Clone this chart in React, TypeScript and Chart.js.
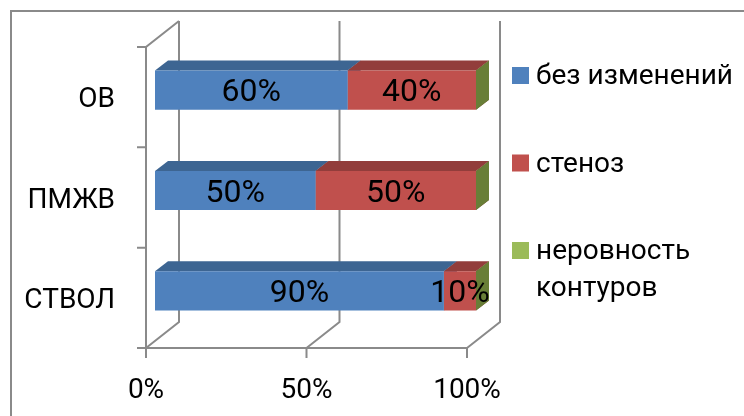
import React, { useEffect, useRef } from "react";
import { Chart, registerables } from "chart.js";

Chart.register(...registerables);

// Categories (top to bottom) and series shares, in percent
const CATEGORIES = ["ОВ", "ПМЖВ", "СТВОЛ"];
const SERIES_NAMES = ["без изменений", "стеноз", "неровность контуров"];
const UNCHANGED = [60, 50, 90];
const STENOSIS = [40, 50, 10];
const IRREGULAR = [0, 0, 0];
const X_TICKS = [0, 50, 100];

// Face colours: front, top, side
const FRONT_COLORS = ["#4F81BD", "#C0504D", "#9BBB59"];
const TOP_COLORS = ["#3D6592", "#923D3B", "#6B8039"];
const SIDE_COLORS = ["#3A5F88", "#8A3936", "#687E37"];

const FONT_FAMILY = "Roboto, 'Liberation Sans', sans-serif";
const LINE_COLOR = "#8A8A8A";

// Perspective offsets relative to the plane of the bars' front faces
const FRONT = { dx: -9, dy: 7 };
const BACK = { dx: 24, dy: -19 };
const BAR_DEPTH = { dx: 13, dy: -10 };

const frame3d = {
  id: "frame3d",
  beforeDatasetsDraw(chart: any) {
    const { ctx } = chart;
    const xs = chart.scales.x;
    const ys = chart.scales.y;
    const top = ys.top;
    const bottom = ys.bottom;
    const x0 = xs.getPixelForValue(X_TICKS[0]);
    const xEnd = xs.getPixelForValue(X_TICKS[X_TICKS.length - 1]);

    ctx.save();
    ctx.lineCap = "butt";

    // outer chart border (top and left edges)
    ctx.strokeStyle = "#8A8A8A";
    ctx.lineWidth = 2;
    ctx.beginPath();
    ctx.moveTo(11, chart.height);
    ctx.lineTo(11, 11);
    ctx.lineTo(chart.width, 11);
    ctx.stroke();

    ctx.strokeStyle = LINE_COLOR;
    ctx.lineWidth = 2;
    ctx.beginPath();
    // back wall gridlines and floor diagonals
    for (const v of X_TICKS) {
      const px = xs.getPixelForValue(v);
      ctx.moveTo(px + BACK.dx, top + BACK.dy);
      ctx.lineTo(px + BACK.dx, bottom + BACK.dy);
      ctx.lineTo(px + FRONT.dx, bottom + FRONT.dy);
      // tick marks under the floor
      ctx.moveTo(px + FRONT.dx, bottom + FRONT.dy);
      ctx.lineTo(px + FRONT.dx, bottom + FRONT.dy + 10);
    }
    // floor front edge
    ctx.moveTo(x0 + FRONT.dx, bottom + FRONT.dy);
    ctx.lineTo(xEnd + FRONT.dx, bottom + FRONT.dy);
    // left wall front edge and top diagonal
    ctx.moveTo(x0 + FRONT.dx, bottom + FRONT.dy);
    ctx.lineTo(x0 + FRONT.dx, top + FRONT.dy);
    ctx.lineTo(x0 + BACK.dx, top + BACK.dy);
    // category boundary ticks on the left wall
    const n = CATEGORIES.length;
    const band = (bottom - top) / n;
    for (let k = 0; k <= n; k++) {
      const yb = top + k * band + FRONT.dy;
      ctx.moveTo(x0 + FRONT.dx - 9, yb);
      ctx.lineTo(x0 + FRONT.dx, yb);
    }
    ctx.stroke();

    // top and end faces of each bar segment
    chart.data.datasets.forEach((ds: any, di: number) => {
      const meta = chart.getDatasetMeta(di);
      meta.data.forEach((bar: any) => {
        const p = bar.getProps(["x", "y", "base", "height"], true);
        const left = Math.min(p.x, p.base);
        const right = Math.max(p.x, p.base);
        const t = p.y - p.height / 2;
        const b = p.y + p.height / 2;
        ctx.fillStyle = TOP_COLORS[di];
        ctx.beginPath();
        ctx.moveTo(left, t);
        ctx.lineTo(right, t);
        ctx.lineTo(right + BAR_DEPTH.dx, t + BAR_DEPTH.dy);
        ctx.lineTo(left + BAR_DEPTH.dx, t + BAR_DEPTH.dy);
        ctx.closePath();
        ctx.fill();
        ctx.fillStyle = SIDE_COLORS[di];
        ctx.beginPath();
        ctx.moveTo(right, t);
        ctx.lineTo(right + BAR_DEPTH.dx, t + BAR_DEPTH.dy);
        ctx.lineTo(right + BAR_DEPTH.dx, b + BAR_DEPTH.dy);
        ctx.lineTo(right, b);
        ctx.closePath();
        ctx.fill();
      });
    });
    ctx.restore();
  },
  afterDatasetsDraw(chart: any) {
    const { ctx } = chart;
    ctx.save();
    ctx.font = `32px ${FONT_FAMILY}`;
    ctx.fillStyle = "#000000";
    ctx.textAlign = "center";
    ctx.textBaseline = "middle";
    chart.data.datasets.forEach((ds: any, di: number) => {
      const meta = chart.getDatasetMeta(di);
      meta.data.forEach((bar: any, i: number) => {
        const v = ds.data[i];
        if (!v) return;
        const p = bar.getProps(["x", "y", "base"], true);
        ctx.fillText(`${v}%`, (p.x + p.base) / 2, p.y + 3);
      });
    });
    ctx.restore();
  },
  afterDraw(chart: any) {
    // legend on the right
    const { ctx } = chart;
    ctx.save();
    ctx.font = `28px ${FONT_FAMILY}`;
    ctx.textBaseline = "alphabetic";
    ctx.textAlign = "left";
    const boxX = 512;
    const textX = 536;
    const maxW = chart.width - textX - 4;
    const firstTop = 67;
    const step = 87.5;
    const lineH = 37;
    chart.data.datasets.forEach((ds: any, di: number) => {
      const y = firstTop + di * step;
      ctx.fillStyle = FRONT_COLORS[di];
      ctx.fillRect(boxX, y, 17, 17);
      const words = String(ds.label).split(" ");
      const lines: string[] = [];
      let cur = "";
      for (const w of words) {
        const test = cur ? cur + " " + w : w;
        if (cur && ctx.measureText(test).width > maxW) {
          lines.push(cur);
          cur = w;
        } else {
          cur = test;
        }
      }
      if (cur) lines.push(cur);
      ctx.fillStyle = "#000000";
      lines.forEach((ln, li) => ctx.fillText(ln, textX, y + 17 + li * lineH));
    });
    ctx.restore();
  },
};

export default function App() {
  const canvasRef = useRef<HTMLCanvasElement | null>(null);

  useEffect(() => {
    const canvas = canvasRef.current;
    if (!canvas) return;
    const seriesValues = [UNCHANGED, STENOSIS, IRREGULAR];
    const chart = new Chart(canvas, {
      type: "bar",
      data: {
        labels: CATEGORIES,
        datasets: SERIES_NAMES.map((name, i) => ({
          label: name,
          data: seriesValues[i],
          backgroundColor: FRONT_COLORS[i],
          borderWidth: 0,
          categoryPercentage: 1,
          barPercentage: 0.39,
        })),
      },
      options: {
        indexAxis: "y",
        animation: false,
        responsive: false,
        devicePixelRatio: 1,
        layout: { padding: { top: 40, right: 268, left: 0, bottom: 0 } },
        plugins: {
          legend: { display: false },
          tooltip: { enabled: false },
        },
        scales: {
          x: {
            type: "linear",
            stacked: true,
            min: 0,
            max: 100,
            afterFit: (scale: any) => {
              scale.height = 75;
              scale.paddingLeft = 0;
              scale.paddingRight = 0;
            },
            grid: { display: false, drawTicks: false },
            border: { display: false },
            ticks: {
              stepSize: 50,
              padding: 33,
              labelOffset: -9,
              color: "#000000",
              font: { family: FONT_FAMILY, size: 28 },
              callback: (v: any) => `${v}%`,
            },
          },
          y: {
            type: "category",
            stacked: true,
            afterFit: (scale: any) => {
              scale.width = 155;
              scale.paddingTop = 0;
              scale.paddingBottom = 0;
            },
            grid: { display: false, drawTicks: false },
            border: { display: false },
            ticks: {
              padding: 40,
              labelOffset: 10,
              color: "#000000",
              font: { family: FONT_FAMILY, size: 28 },
            },
          },
        },
      },
      plugins: [frame3d],
    } as any);
    return () => chart.destroy();
  }, []);

  return (
    <div style={{ position: "absolute", left: 0, top: 0, width: 744, height: 416, background: "#ffffff" }}>
      <canvas ref={canvasRef} width={744} height={416} style={{ display: "block" }} />
    </div>
  );
}
